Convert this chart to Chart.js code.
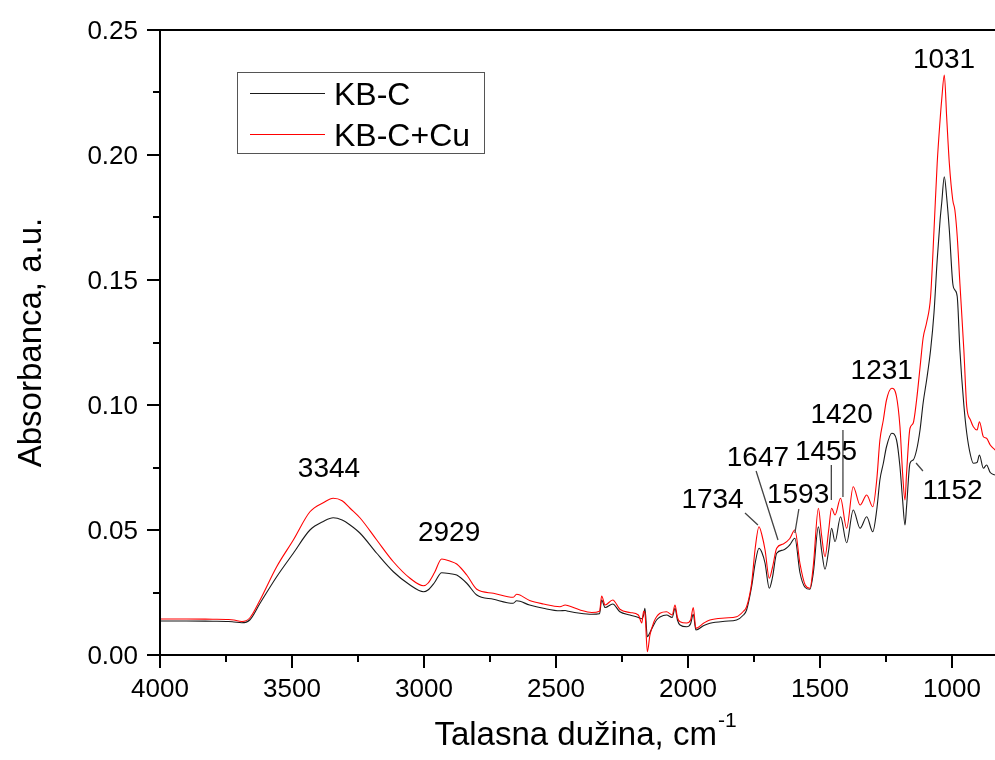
<!DOCTYPE html>
<html><head><meta charset="utf-8">
<script src="https://cdn.jsdelivr.net/npm/chart.js@4/dist/chart.umd.min.js"></script>
<style>html,body{margin:0;padding:0;background:#fff}#wrap{width:995px;height:760px;position:relative}</style>
</head><body><div id="wrap"><canvas id="c" width="995" height="760"></canvas></div>
<script>
// ---- data ----
const wavenumbers = [
 4000,3900,3800,3740,3720,3690,3660,3621,3558,3495,
 3432,3380,3344,3310,3280,3242,3179,3116,3053,3002,
 2985,2960,2933,2900,2876,2838,2800,2737,2662,2649,
 2600,2548,2485,2465,2453,2409,2365,2335,2327,2314,
 2285,2258,2220,2188,2175,2168,2163,2154,2144,2130,
 2119,2106,2081,2060,2049,2040,2030,2005,1990,1980,
 1970,1940,1917,1860,1816,1790,1778,1759,1745,1731,
 1720,1708,1692,1680,1664,1639,1615,1595,1576,1556,
 1538,1525,1506,1494,1481,1467,1456,1443,1422,1399,
 1374,1348,1323,1300,1285,1273,1260,1248,1228,1210,
 1197,1187,1178,1172,1159,1147,1134,1121,1109,1096,
 1081,1068,1056,1045,1039,1029,1020,1010,997,989,
 980,970,955,944,930,919,905,896,881,869,
 855,837];
const kbc = [
 0.0136,0.0136,0.0135,0.0134,0.0132,0.0129,0.0140,0.0207,0.0313,0.0407,
 0.0500,0.0535,0.0549,0.0540,0.0520,0.0487,0.0407,0.0333,0.0280,0.0253,
 0.0260,0.0290,0.0329,0.0325,0.0320,0.0287,0.0240,0.0223,0.0207,0.0217,
 0.0200,0.0187,0.0177,0.0178,0.0175,0.0167,0.0163,0.0165,0.0220,0.0190,
 0.0204,0.0173,0.0160,0.0150,0.0145,0.0160,0.0187,0.0073,0.0090,0.0120,
 0.0140,0.0152,0.0160,0.0150,0.0187,0.0140,0.0120,0.0113,0.0125,0.0163,
 0.0100,0.0118,0.0127,0.0135,0.0140,0.0160,0.0180,0.0273,0.0370,0.0427,
 0.0410,0.0367,0.0267,0.0310,0.0407,0.0420,0.0440,0.0467,0.0330,0.0270,
 0.0263,0.0330,0.0513,0.0420,0.0343,0.0420,0.0507,0.0453,0.0553,0.0449,
 0.0580,0.0507,0.0553,0.0493,0.0580,0.0700,0.0767,0.0833,0.0887,0.0860,
 0.0753,0.0620,0.0520,0.0593,0.0767,0.0780,0.0820,0.0900,0.1010,0.1100,
 0.1220,0.1370,0.1580,0.1740,0.1807,0.1913,0.1830,0.1700,0.1487,0.1460,
 0.1433,0.1220,0.1000,0.0887,0.0800,0.0767,0.0770,0.0800,0.0747,0.0760,
 0.0730,0.0720];
const kbcCu = [
 0.0144,0.0144,0.0143,0.0142,0.0140,0.0134,0.0148,0.0220,0.0353,0.0460,
 0.0573,0.0610,0.0627,0.0617,0.0587,0.0548,0.0460,0.0373,0.0307,0.0277,
 0.0287,0.0330,0.0384,0.0375,0.0364,0.0320,0.0263,0.0247,0.0231,0.0243,
 0.0218,0.0204,0.0193,0.0200,0.0197,0.0180,0.0170,0.0175,0.0236,0.0200,
 0.0220,0.0183,0.0170,0.0160,0.0128,0.0175,0.0168,0.0013,0.0080,0.0130,
 0.0153,0.0167,0.0173,0.0160,0.0200,0.0150,0.0133,0.0128,0.0140,0.0190,
 0.0107,0.0128,0.0140,0.0148,0.0153,0.0175,0.0193,0.0287,0.0430,0.0513,
 0.0480,0.0420,0.0307,0.0350,0.0427,0.0444,0.0465,0.0500,0.0367,0.0280,
 0.0267,0.0360,0.0587,0.0480,0.0393,0.0500,0.0587,0.0560,0.0627,0.0507,
 0.0673,0.0600,0.0640,0.0593,0.0700,0.0860,0.0940,0.1020,0.1067,0.1033,
 0.0913,0.0727,0.0620,0.0727,0.0907,0.0927,0.1020,0.1150,0.1270,0.1330,
 0.1433,0.1700,0.1967,0.2140,0.2220,0.2320,0.2150,0.1967,0.1820,0.1780,
 0.1673,0.1487,0.1220,0.0993,0.0940,0.0913,0.0900,0.0933,0.0873,0.0867,
 0.0840,0.0820];
const seriesNames = ['KB-C', 'KB-C+Cu'];
const xTickValues = [4000, 3500, 3000, 2500, 2000, 1500, 1000];
const yTickValues = [0, 0.05, 0.10, 0.15, 0.20, 0.25];
const yTickLabels = ['0.00', '0.05', '0.10', '0.15', '0.20', '0.25'];
const xTitle = 'Talasna dužina, cm';
const xTitleSup = '-1';
const yTitle = 'Absorbanca, a.u.';
// peak annotations (text, anchor in data units)
const peakTexts = ['3344', '2929', '1734', '1647', '1593', '1455', '1420', '1231', '1152', '1031'];
const peakTextX = [3360, 2905, 1907, 1735, 1583, 1477, 1418, 1266, 998, 1030];
const peakTextY = [0.0752, 0.0496, 0.0630, 0.0796, 0.0650, 0.0820, 0.0968, 0.1144, 0.0666, 0.2388];
// leader lines (data units)
const leaderX1 = [1784, 1742, 1580, 1457, 1413, 1136];
const leaderY1 = [0.0568, 0.0736, 0.0584, 0.0760, 0.0900, 0.0768];
const leaderX2 = [1735, 1659, 1595, 1457, 1413, 1110];
const leaderY2 = [0.0520, 0.0460, 0.0488, 0.0620, 0.0632, 0.0736];

const FONT = '"Liberation Sans", Arial, sans-serif';

const decor = {
  id: 'decor',
  afterDraw(chart) {
    const ctx = chart.ctx, a = chart.chartArea, xs = chart.scales.x, ys = chart.scales.y;
    ctx.save();
    ctx.strokeStyle = '#000';
    ctx.lineWidth = 2;
    ctx.beginPath();
    ctx.moveTo(a.left, a.top); ctx.lineTo(a.right, a.top);
    ctx.moveTo(a.left, a.top - 1); ctx.lineTo(a.left, a.bottom + 1);
    ctx.moveTo(a.left - 1, a.bottom); ctx.lineTo(a.right, a.bottom);
    // x ticks (major 500, minor 250)
    for (let v = 4000; v >= xs.min; v -= 250) {
      const px = Math.round(xs.getPixelForValue(v));
      const len = (v % 500 === 0) ? 13 : 7;
      ctx.moveTo(px, a.bottom); ctx.lineTo(px, a.bottom + len);
    }
    // y ticks (major 0.05, minor 0.025)
    for (let i = 0; i <= 10; i++) {
      const v = i * 0.025;
      const py = Math.round(ys.getPixelForValue(v));
      const len = (i % 2 === 0) ? 13 : 7;
      ctx.moveTo(a.left, py); ctx.lineTo(a.left - len, py);
    }
    ctx.stroke();

    // tick labels
    ctx.fillStyle = '#000';
    ctx.font = '26px ' + FONT;
    ctx.textAlign = 'center';
    ctx.textBaseline = 'alphabetic';
    xTickValues.forEach(v => {
      ctx.fillText(String(v), xs.getPixelForValue(v), a.bottom + 42);
    });
    ctx.textAlign = 'right';
    yTickValues.forEach((v, i) => {
      ctx.fillText(yTickLabels[i], a.left - 22, ys.getPixelForValue(v) + 9);
    });

    // axis titles
    ctx.font = '33px ' + FONT;
    const w1 = ctx.measureText(xTitle).width;
    ctx.font = '21px ' + FONT;
    const w2 = ctx.measureText(xTitleSup).width;
    const startX = 585 - (w1 + w2) / 2;
    ctx.textAlign = 'left';
    ctx.font = '33px ' + FONT;
    ctx.fillText(xTitle, startX, 745);
    ctx.font = '21px ' + FONT;
    ctx.fillText(xTitleSup, startX + w1 + 1, 727);

    ctx.save();
    ctx.translate(41, (a.top + a.bottom) / 2);
    ctx.rotate(-Math.PI / 2);
    ctx.textAlign = 'center';
    ctx.font = '33px ' + FONT;
    ctx.fillText(yTitle, 0, 0);
    ctx.restore();

    // leader lines
    ctx.strokeStyle = '#444';
    ctx.lineWidth = 1.3;
    ctx.beginPath();
    leaderX1.forEach((x1, i) => {
      ctx.moveTo(xs.getPixelForValue(x1), ys.getPixelForValue(leaderY1[i]));
      ctx.lineTo(xs.getPixelForValue(leaderX2[i]), ys.getPixelForValue(leaderY2[i]));
    });
    ctx.stroke();

    // peak labels
    ctx.fillStyle = '#000';
    ctx.font = '28px ' + FONT;
    ctx.textAlign = 'center';
    peakTexts.forEach((t, i) => {
      ctx.fillText(t, xs.getPixelForValue(peakTextX[i]), ys.getPixelForValue(peakTextY[i]) + 10);
    });

    // legend
    ctx.fillStyle = '#fff';
    ctx.fillRect(237, 72, 247, 81);
    ctx.strokeStyle = '#555';
    ctx.lineWidth = 1;
    ctx.strokeRect(237.5, 72.5, 247, 81);
    const rows = [93.5, 134.5];
    chart.data.datasets.forEach((ds, i) => {
      ctx.strokeStyle = ds.borderColor;
      ctx.lineWidth = 1.2;
      ctx.beginPath();
      ctx.moveTo(250, rows[i]); ctx.lineTo(325, rows[i]);
      ctx.stroke();
      ctx.fillStyle = '#000';
      ctx.font = '32px ' + FONT;
      ctx.textAlign = 'left';
      ctx.fillText(ds.label, 334, rows[i] + 11.5);
    });
    ctx.restore();
  }
};

new Chart(document.getElementById('c'), {
  type: 'line',
  data: {
    datasets: [
      { label: seriesNames[0], data: wavenumbers.map((w, i) => ({ x: w, y: kbc[i] })),
        borderColor: '#1a1a1a', borderWidth: 1.1, pointRadius: 0, cubicInterpolationMode: 'monotone', order: 2 },
      { label: seriesNames[1], data: wavenumbers.map((w, i) => ({ x: w, y: kbcCu[i] })),
        borderColor: '#ff0000', borderWidth: 1.1, pointRadius: 0, cubicInterpolationMode: 'monotone', order: 1 }
    ]
  },
  options: {
    responsive: false,
    animation: false,
    devicePixelRatio: 1,
    layout: { padding: { top: 30, right: 0, left: 0, bottom: 0 } },
    plugins: { legend: { display: false }, tooltip: { enabled: false } },
    scales: {
      x: {
        type: 'linear', reverse: true, min: 837, max: 4000,
        ticks: { display: false }, grid: { display: false }, border: { display: false },
        afterFit: s => { s.height = 105; }
      },
      y: {
        type: 'linear', min: 0, max: 0.25,
        ticks: { display: false }, grid: { display: false }, border: { display: false },
        afterFit: s => { s.width = 160; }
      }
    }
  },
  plugins: [decor]
});
</script>
</body></html>
